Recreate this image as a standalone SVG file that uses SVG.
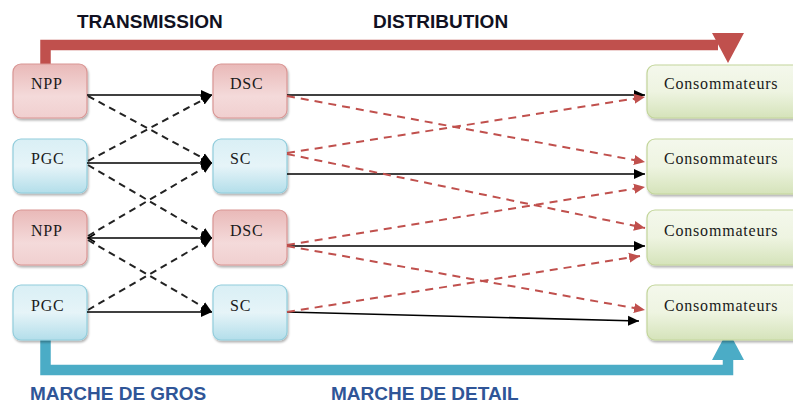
<svg xmlns="http://www.w3.org/2000/svg" width="793" height="405" viewBox="0 0 793 405">
<defs>
<linearGradient id="gRed" x1="0" y1="0" x2="0" y2="1">
<stop offset="0" stop-color="#E9B9B8"/><stop offset="0.6" stop-color="#F4DADA"/><stop offset="1" stop-color="#F0CFCF"/>
</linearGradient>
<linearGradient id="gBlue" x1="0" y1="0" x2="0" y2="1">
<stop offset="0" stop-color="#D9EFF5"/><stop offset="0.5" stop-color="#E6F4F8"/><stop offset="1" stop-color="#B3DEEA"/>
</linearGradient>
<linearGradient id="gGreen" x1="0" y1="0" x2="0" y2="1">
<stop offset="0" stop-color="#F4F8EC"/><stop offset="0.5" stop-color="#EEF4E1"/><stop offset="1" stop-color="#D5E3BA"/>
</linearGradient>
<filter id="sh" x="-10%" y="-10%" width="130%" height="140%">
<feDropShadow dx="1" dy="2" stdDeviation="1.3" flood-color="#000" flood-opacity="0.3"/>
</filter>
<marker id="aB" markerUnits="userSpaceOnUse" markerWidth="12" markerHeight="12" refX="11" refY="6" orient="auto">
<path d="M0,1 L11,6 L0,11 z" fill="#000"/>
</marker>
<marker id="aO" markerUnits="userSpaceOnUse" markerWidth="10" markerHeight="10" refX="1" refY="5" orient="auto">
<path d="M8,1 L1,5 L8,9" fill="none" stroke="#000" stroke-width="1.5"/>
</marker>
<marker id="aR" markerUnits="userSpaceOnUse" markerWidth="12" markerHeight="12" refX="11" refY="6" orient="auto">
<path d="M0,1 L11,6 L0,11 z" fill="#C0504D"/>
</marker>
<style>
.red{fill:url(#gRed);stroke:#D99694;stroke-width:1.2;filter:url(#sh)}
.blue{fill:url(#gBlue);stroke:#92CDDC;stroke-width:1.2;filter:url(#sh)}
.green{fill:url(#gGreen);stroke:#C3D69B;stroke-width:1.2;filter:url(#sh)}
.lbl{font-family:"Liberation Serif",serif;font-size:16px;fill:#1a1a1a;letter-spacing:0.8px}
.head{font-family:"Liberation Sans",Arial,sans-serif;font-size:19px;font-weight:bold}
.solid{stroke:#000;stroke-width:1.6;fill:none}
.dash{stroke:#222;stroke-width:2;fill:none;stroke-dasharray:7 5}
.rdash{stroke:#C0504D;stroke-width:2;fill:none;stroke-dasharray:8 6}
</style>
</defs>
<rect width="793" height="405" fill="#fff"/>

<g id="headings">
<text class="head" x="77" y="28" fill="#111122">TRANSMISSION</text>
<text class="head" x="373" y="28" fill="#111122">DISTRIBUTION</text>
<text class="head" x="30" y="400" fill="#2F5597">MARCHE DE GROS</text>
<text class="head" x="331" y="400" fill="#2F5597">MARCHE DE DETAIL</text>
</g>

<g id="bigArrows">
<path d="M45.5,66 V45 H718" fill="none" stroke="#C0504D" stroke-width="10.5"/>
<polygon points="712,33 744,33 728,63" fill="#C0504D"/>
<path d="M45.5,338 V370 H728 V355" fill="none" stroke="#4BACC6" stroke-width="10.5"/>
<polygon points="712,360 744,360 728,330" fill="#4BACC6"/>
</g>

<g id="n-npp1"><rect class="red" x="13" y="64" width="74" height="54" rx="8"/><text class="lbl" x="31" y="89">NPP</text></g>
<g id="n-pgc1"><rect class="blue" x="13" y="139" width="74" height="54" rx="8"/><text class="lbl" x="31" y="164">PGC</text></g>
<g id="n-npp2"><rect class="red" x="13" y="210" width="74" height="55" rx="8"/><text class="lbl" x="31" y="236">NPP</text></g>
<g id="n-pgc2"><rect class="blue" x="13" y="285" width="74" height="55" rx="8"/><text class="lbl" x="31" y="311">PGC</text></g>

<g id="n-dsc1"><rect class="red" x="213" y="64" width="74" height="54" rx="8"/><text class="lbl" x="230" y="89">DSC</text></g>
<g id="n-sc1"><rect class="blue" x="213" y="139" width="74" height="54" rx="8"/><text class="lbl" x="230" y="164">SC</text></g>
<g id="n-dsc2"><rect class="red" x="213" y="210" width="74" height="55" rx="8"/><text class="lbl" x="230" y="236">DSC</text></g>
<g id="n-sc2"><rect class="blue" x="213" y="285" width="74" height="55" rx="8"/><text class="lbl" x="230" y="311">SC</text></g>

<g id="n-c1"><rect class="green" x="647" y="65" width="160" height="53" rx="8"/><text class="lbl" x="664" y="89">Consommateurs</text></g>
<g id="n-c2"><rect class="green" x="647" y="139" width="160" height="55" rx="8"/><text class="lbl" x="664" y="164">Consommateurs</text></g>
<g id="n-c3"><rect class="green" x="647" y="210" width="160" height="55" rx="8"/><text class="lbl" x="664" y="236">Consommateurs</text></g>
<g id="n-c4"><rect class="green" x="647" y="285" width="160" height="55" rx="8"/><text class="lbl" x="664" y="311">Consommateurs</text></g>

<g id="connectors">
<line class="solid" x1="87" y1="95" x2="212" y2="95" marker-end="url(#aB)"/>
<line class="solid" x1="87" y1="163" x2="212" y2="163" marker-end="url(#aB)"/>
<line class="solid" x1="88" y1="238" x2="212" y2="238" marker-start="url(#aO)" marker-end="url(#aB)"/>
<line class="solid" x1="87" y1="312" x2="212" y2="312" marker-end="url(#aB)"/>

<line class="dash" x1="88" y1="96" x2="212" y2="163" marker-end="url(#aB)"/>
<line class="dash" x1="88" y1="161" x2="212" y2="95" marker-end="url(#aB)"/>
<line class="dash" x1="88" y1="165" x2="212" y2="238" marker-end="url(#aB)"/>
<line class="dash" x1="88" y1="236" x2="212" y2="163" marker-end="url(#aB)"/>
<line class="dash" x1="88" y1="240" x2="212" y2="312" marker-end="url(#aB)"/>
<line class="dash" x1="88" y1="310" x2="212" y2="238" marker-end="url(#aB)"/>

<line class="solid" x1="287" y1="95" x2="645" y2="95" marker-end="url(#aB)"/>
<line class="solid" x1="287" y1="174" x2="645" y2="174" marker-end="url(#aB)"/>
<line class="solid" x1="287" y1="246" x2="645" y2="246" marker-end="url(#aB)"/>
<line class="solid" x1="287" y1="312" x2="639" y2="321" marker-end="url(#aB)"/>

<line class="rdash" x1="287" y1="96" x2="645" y2="162" marker-end="url(#aR)"/>
<line class="rdash" x1="287" y1="153" x2="645" y2="97" marker-end="url(#aR)"/>
<line class="rdash" x1="287" y1="154" x2="645" y2="228" marker-end="url(#aR)"/>
<line class="rdash" x1="287" y1="245" x2="645" y2="187" marker-end="url(#aR)"/>
<line class="rdash" x1="287" y1="246" x2="645" y2="310" marker-end="url(#aR)"/>
<line class="rdash" x1="287" y1="312" x2="640" y2="256" marker-end="url(#aR)"/>
</g>
</svg>
